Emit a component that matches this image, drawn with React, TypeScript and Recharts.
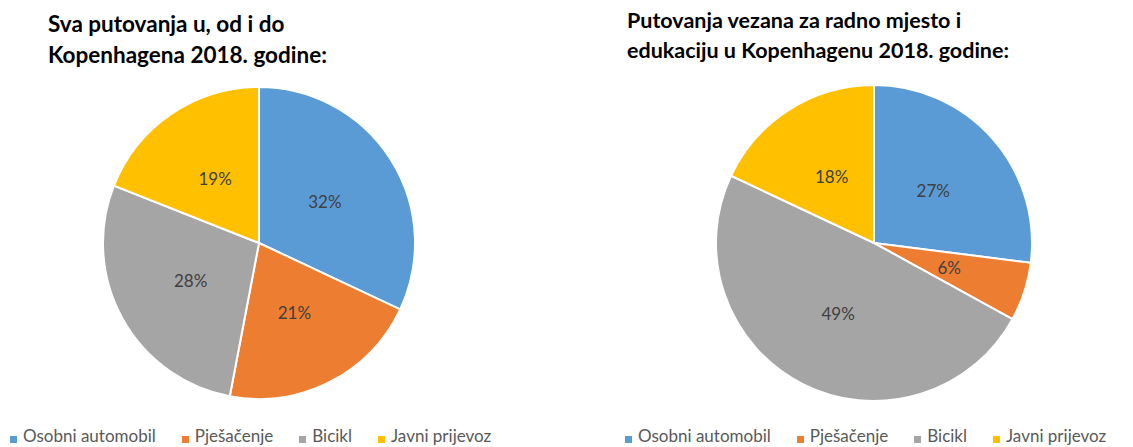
import React from "react";
import { PieChart, Pie, Cell, Legend } from "recharts";

const categories = ["Osobni automobil", "Pješačenje", "Bicikl", "Javni prijevoz"];
const colors = ["#5B9BD5", "#ED7D31", "#A5A5A5", "#FFC000"];
const allTrips = [32, 21, 28, 19];
const workTrips = [27, 6, 49, 18];
const title1 = ["Sva putovanja u, od i do", "Kopenhagena 2018. godine:"];
const title2 = ["Putovanja vezana za radno mjesto i", "edukaciju u Kopenhagenu 2018. godine:"];

const FONT = "Lato, 'Open Sans', sans-serif";
const RADIAN = Math.PI / 180;

const toData = (vals: number[]) => categories.map((name, i) => ({ name, value: vals[i] }));

const renderLabel = (props: any) => {
  const { cx, cy, midAngle, outerRadius, value } = props;
  const r = outerRadius * 0.5;
  const x = cx + r * Math.cos(-midAngle * RADIAN);
  const y = cy + r * Math.sin(-midAngle * RADIAN);
  return (
    <text x={x} y={y} fill="#404040" fontSize={17} fontFamily={FONT} textAnchor="middle" dominantBaseline="central">
      {`${value}%`}
    </text>
  );
};

const LegendContent = ({ gap }: { gap: number }) => (
  <div style={{ display: "flex", alignItems: "center", fontFamily: FONT, fontSize: 17, lineHeight: "20px", color: "#595959", whiteSpace: "nowrap" }}>
    {categories.map((c, i) => (
      <div key={c} style={{ display: "flex", alignItems: "center", marginRight: gap }}>
        <span style={{ display: "inline-block", width: 7, height: 7, background: colors[i], marginRight: 6, position: "relative", top: 3 }} />
        <span>{c}</span>
      </div>
    ))}
  </div>
);

const Title = ({ lines, left, top, lineHeight, size }: { lines: string[]; left: number; top: number; lineHeight: number; size: number }) => (
  <div style={{ position: "absolute", left, top, fontFamily: FONT, fontWeight: 700, fontSize: size, lineHeight: `${lineHeight}px`, color: "#000", whiteSpace: "nowrap" }}>
    {lines.map((l) => (
      <div key={l}>{l}</div>
    ))}
  </div>
);

const Chart = ({ vals, cx, cy, r, legendLeft, gap }: { vals: number[]; cx: number; cy: number; r: number; legendLeft: number; gap: number }) => (
  <PieChart width={566} height={447} margin={{ top: 0, right: 0, bottom: 0, left: 0 }}>
    <Pie
      data={toData(vals)}
      dataKey="value"
      nameKey="name"
      cx={cx}
      cy={cy}
      outerRadius={r}
      startAngle={90}
      endAngle={-270}
      stroke="#ffffff"
      strokeWidth={2}
      label={renderLabel}
      labelLine={false}
      isAnimationActive={false}
    >
      {vals.map((_, i) => (
        <Cell key={i} fill={colors[i]} />
      ))}
    </Pie>
    <Legend
      verticalAlign="bottom"
      content={() => <LegendContent gap={gap} />}
      wrapperStyle={{ position: "absolute", left: legendLeft, top: 426, width: "auto", height: 20 }}
    />
  </PieChart>
);

export default function App() {
  return (
    <div style={{ position: "absolute", left: 0, top: 0, width: 1133, height: 447, background: "#fff", overflow: "hidden" }}>
      <div style={{ position: "absolute", left: 0, top: 0 }}>
        <Chart vals={allTrips} cx={259} cy={243} r={156} legendLeft={10} gap={26} />
      </div>
      <div style={{ position: "absolute", left: 600, top: 0 }}>
        <Chart vals={workTrips} cx={274} cy={243} r={158} legendLeft={25} gap={26} />
      </div>
      <Title lines={title1} left={48} top={8} lineHeight={31} size={22.5} />
      <Title lines={title2} left={627} top={5} lineHeight={30} size={21.5} />
    </div>
  );
}
